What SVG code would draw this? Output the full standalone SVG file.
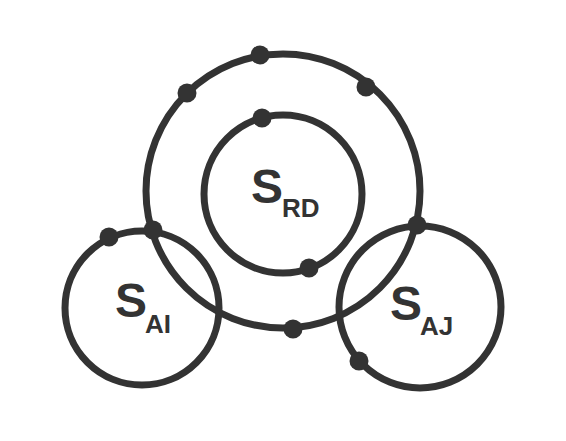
<svg xmlns="http://www.w3.org/2000/svg" width="566" height="441" viewBox="0 0 566 441">
<style>
.ring{fill:none;stroke:#333333;stroke-width:7}
.dot{fill:#333333}
.lbl{font-family:"Liberation Sans",Arial,sans-serif;font-weight:bold;fill:#333333}
.main{font-size:48px}
.sub{font-size:26px}
</style>
<rect width="566" height="441" fill="#ffffff"/>
<g id="outer-ring">
<circle class="ring" cx="283" cy="191" r="137"/>
</g>
<g id="S_RD">
<circle class="ring" cx="283" cy="194" r="79"/>
<text class="lbl main" x="251" y="203">S</text>
<text class="lbl sub" x="282" y="217">RD</text>
</g>
<g id="S_AI">
<circle class="ring" cx="142" cy="308" r="77"/>
<text class="lbl main" x="115" y="317">S</text>
<text class="lbl sub" x="145" y="333">AI</text>
</g>
<g id="S_AJ">
<circle class="ring" cx="420" cy="307" r="81"/>
<text class="lbl main" x="390" y="320">S</text>
<text class="lbl sub" x="420" y="335">AJ</text>
</g>
<g id="connectors">
<circle class="dot" cx="260" cy="55" r="9.5"/>
<circle class="dot" cx="187" cy="93" r="9.5"/>
<circle class="dot" cx="366" cy="87" r="9.5"/>
<circle class="dot" cx="262" cy="118" r="9.5"/>
<circle class="dot" cx="309" cy="268" r="9.5"/>
<circle class="dot" cx="109" cy="237" r="9.5"/>
<circle class="dot" cx="153" cy="230" r="9.5"/>
<circle class="dot" cx="417" cy="225" r="9.5"/>
<circle class="dot" cx="293" cy="329" r="9.5"/>
<circle class="dot" cx="359" cy="361" r="9.5"/>
</g>
</svg>
